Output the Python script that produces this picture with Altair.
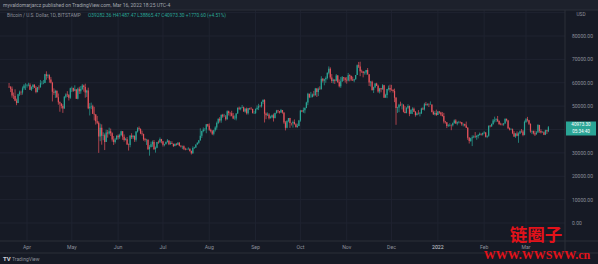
import altair as alt
import pandas as pd

START = "2021-03-20"
FIRST_OPEN = 58.3  # close of 2021-03-19, thousands USD

# Daily closes / highs / lows in thousands of USD, BTC/USD daily
close_2021_03 = [58.1, 57.4, 54.5, 54.3, 52.3, 51.3, 55.1, 55.9, 55.8, 57.6, 58.8, 58.8]
high_2021_03 = [59.9, 58.6, 58.4, 55.8, 57.2, 53.2, 55.3, 56.6, 56.6, 58.4, 59.4, 59.8]
low_2021_03 = [57.8, 56.0, 53.6, 53.0, 52.1, 50.4, 51.3, 54.4, 54.7, 54.9, 57.0, 56.9]

close_2021_04 = [59.0, 59.1, 57.0, 58.2, 59.1, 57.9, 56.0, 58.1, 58.0, 59.8, 59.8, 59.9, 63.6, 62.9, 63.2,
                 61.4, 60.0, 56.2, 55.7, 56.5, 53.8, 51.7, 51.1, 50.1, 49.0, 54.0, 55.0, 54.8, 53.6, 57.7]
high_2021_04 = [59.5, 60.0, 59.8, 58.5, 59.4, 59.4, 58.6, 58.2, 58.9, 61.2, 60.7, 61.2, 63.8, 64.9, 63.8,
                63.6, 62.5, 60.4, 57.6, 57.0, 56.8, 55.4, 52.0, 51.2, 50.8, 54.3, 55.5, 56.4, 55.2, 57.9]
low_2021_04 = [57.9, 58.5, 56.9, 56.5, 57.3, 57.8, 55.5, 55.9, 57.0, 58.0, 59.2, 59.4, 59.8, 61.3, 62.0,
               60.0, 59.7, 52.0, 54.8, 53.5, 53.5, 50.6, 47.6, 49.0, 47.1, 48.9, 53.4, 53.9, 52.4, 53.1]

close_2021_05 = [57.8, 56.6, 57.2, 53.2, 57.4, 56.4, 57.3, 58.8, 58.2, 55.8, 56.7, 49.1, 49.7, 49.9, 46.7, 46.4,
                 43.5, 42.9, 37.0, 40.7, 37.3, 37.5, 34.7, 38.7, 38.3, 39.3, 38.4, 35.7, 34.6, 35.7, 37.3]
high_2021_05 = [58.4, 57.9, 58.9, 57.0, 57.9, 58.3, 58.6, 59.5, 59.2, 59.6, 57.0, 57.9, 51.3, 51.5, 50.6, 49.7,
                46.6, 45.8, 43.5, 42.5, 42.2, 38.8, 38.3, 39.9, 39.8, 40.8, 40.4, 38.8, 37.2, 36.4, 37.5]
low_2021_05 = [56.0, 56.1, 56.4, 53.1, 52.9, 55.2, 55.3, 56.9, 56.2, 53.6, 53.9, 48.7, 46.0, 48.7, 46.6, 43.9,
               42.1, 42.3, 30.0, 35.0, 33.5, 35.4, 31.2, 34.7, 36.5, 37.8, 37.2, 34.8, 33.4, 34.0, 35.7]

close_2021_06 = [36.7, 37.6, 39.2, 36.9, 35.5, 35.8, 33.6, 33.4, 37.4, 36.7, 37.3, 35.6, 39.1, 40.5, 40.2,
                 38.3, 38.1, 35.8, 35.5, 35.6, 31.6, 32.5, 33.7, 34.7, 31.6, 32.2, 34.7, 34.5, 35.9, 35.0]
high_2021_06 = [37.9, 38.2, 39.5, 39.3, 37.9, 36.4, 36.8, 34.0, 37.5, 38.4, 37.6, 37.4, 39.3, 41.0, 41.3,
                40.5, 39.5, 38.2, 36.4, 36.0, 35.8, 33.3, 34.8, 35.3, 35.5, 32.7, 34.7, 35.3, 36.6, 36.0]
low_2021_06 = [35.7, 36.0, 37.2, 35.6, 34.8, 35.3, 33.4, 31.0, 32.4, 35.9, 35.9, 34.7, 34.8, 38.7, 39.5,
               38.0, 37.4, 35.2, 34.8, 33.4, 31.3, 28.8, 32.3, 32.6, 31.3, 30.1, 32.0, 33.9, 34.3, 34.1]

close_2021_07 = [33.5, 33.8, 34.7, 35.3, 33.7, 34.2, 33.9, 32.9, 33.8, 33.5, 34.3, 33.1, 32.7, 32.8, 31.8, 31.4,
                 31.5, 31.8, 30.8, 29.8, 32.1, 32.3, 33.6, 34.3, 35.4, 37.3, 39.4, 40.0, 40.0, 42.2, 41.6]
high_2021_07 = [35.0, 33.9, 34.9, 35.9, 35.3, 35.0, 35.0, 33.9, 34.1, 34.2, 34.6, 34.6, 33.3, 33.1, 33.2, 32.2,
                31.9, 32.4, 31.9, 31.0, 32.8, 32.6, 33.6, 34.5, 35.4, 40.5, 39.5, 40.9, 40.6, 42.3, 42.4]
low_2021_07 = [32.7, 32.8, 33.5, 34.4, 33.3, 33.5, 33.8, 32.5, 32.8, 33.1, 33.4, 32.8, 32.3, 31.6, 31.2, 31.1,
               31.3, 31.4, 30.5, 29.3, 29.6, 31.7, 32.1, 33.5, 33.9, 35.2, 36.4, 38.8, 39.3, 38.4, 41.1]

close_2021_08 = [39.9, 39.2, 38.2, 39.7, 40.9, 42.8, 44.6, 43.8, 46.3, 45.6, 45.6, 44.4, 47.8, 47.1, 47.0, 45.9,
                 44.7, 44.7, 46.8, 49.3, 48.9, 49.3, 49.5, 47.7, 48.9, 47.0, 49.1, 48.9, 48.8, 47.0, 47.1]
high_2021_08 = [42.6, 40.4, 39.8, 39.9, 41.4, 43.4, 44.7, 45.3, 46.4, 46.7, 46.7, 46.2, 48.2, 48.1, 47.4, 48.0,
                47.1, 46.0, 47.0, 49.4, 49.8, 49.5, 50.5, 49.8, 49.2, 49.4, 49.2, 49.3, 49.6, 48.9, 48.0]
low_2021_08 = [39.4, 38.7, 37.6, 37.5, 39.1, 39.9, 42.3, 43.0, 42.9, 45.0, 45.4, 43.8, 44.2, 46.0, 45.6, 45.6,
               44.4, 44.2, 43.9, 46.7, 48.3, 48.2, 49.1, 47.6, 47.2, 46.4, 46.4, 48.4, 48.4, 46.9, 46.7]

close_2021_09 = [48.8, 49.3, 50.0, 49.9, 51.8, 52.7, 46.8, 46.1, 46.4, 44.8, 45.2, 46.1, 44.9, 47.1, 48.1,
                 47.8, 47.3, 48.3, 47.3, 43.0, 40.7, 43.6, 44.9, 42.8, 42.7, 43.2, 42.2, 41.0, 41.5, 43.8]
high_2021_09 = [49.0, 50.3, 51.0, 50.5, 51.9, 52.8, 52.9, 47.3, 47.3, 47.0, 45.9, 46.4, 46.8, 47.2, 48.4,
                48.4, 47.9, 48.8, 48.3, 47.3, 43.6, 44.0, 44.9, 45.0, 42.9, 43.8, 44.3, 42.7, 42.5, 44.1]
low_2021_09 = [46.6, 48.3, 48.3, 49.5, 49.4, 50.9, 43.0, 44.4, 45.8, 44.3, 44.8, 44.8, 43.4, 44.7, 46.8,
               47.0, 46.8, 47.1, 46.8, 42.4, 39.6, 40.5, 43.1, 40.7, 41.7, 40.8, 42.2, 40.9, 40.8, 41.4]

close_2021_10 = [48.1, 47.7, 48.2, 49.2, 51.5, 55.3, 53.8, 53.9, 55.0, 54.7, 57.5, 56.0, 57.4, 57.3, 61.7, 60.9,
                 61.5, 62.0, 64.3, 66.0, 62.2, 60.7, 61.3, 60.9, 63.1, 60.3, 58.5, 60.6, 62.3, 61.9, 61.3]
high_2021_10 = [48.4, 48.3, 49.4, 49.5, 51.9, 55.7, 55.3, 56.1, 55.4, 56.5, 57.8, 57.7, 58.0, 58.5, 62.8, 62.0,
                61.7, 62.7, 64.4, 67.0, 66.6, 63.7, 61.7, 61.5, 63.7, 63.3, 61.4, 62.5, 62.9, 62.4, 62.4]
low_2021_10 = [43.3, 47.4, 47.1, 46.9, 49.1, 50.4, 53.4, 53.7, 53.7, 54.1, 54.5, 53.9, 54.3, 56.9, 57.0, 60.1,
               58.9, 60.0, 61.4, 63.6, 61.5, 59.9, 59.7, 59.5, 60.6, 59.9, 58.0, 57.8, 60.3, 60.8, 60.1]

close_2021_11 = [61.0, 63.2, 62.9, 61.4, 61.0, 61.5, 63.3, 67.5, 66.9, 64.9, 64.8, 64.2, 64.4, 65.5, 63.6,
                 60.1, 60.4, 56.9, 58.1, 59.7, 58.7, 56.3, 57.6, 57.2, 58.9, 53.6, 54.8, 57.3, 57.8, 57.0]
high_2021_11 = [62.4, 64.2, 63.6, 63.1, 62.6, 61.7, 63.3, 67.8, 68.9, 69.0, 65.6, 65.0, 64.9, 65.5, 66.3,
                63.6, 60.8, 60.9, 58.3, 59.8, 60.0, 59.2, 57.8, 57.8, 59.4, 59.1, 55.3, 57.4, 58.8, 59.2]
low_2021_11 = [59.6, 60.6, 60.6, 60.8, 60.8, 60.2, 61.3, 63.3, 66.3, 62.8, 64.2, 62.3, 63.5, 63.4, 63.4,
               58.6, 58.4, 56.6, 55.6, 57.7, 58.6, 55.7, 55.4, 55.9, 57.0, 53.6, 53.7, 53.4, 56.7, 55.9]

close_2021_12 = [56.9, 56.5, 53.6, 49.2, 49.4, 50.6, 50.5, 50.6, 47.6, 47.1, 49.3, 50.1, 46.7, 48.4, 48.9, 47.6,
                 46.2, 46.8, 46.7, 46.9, 49.0, 48.6, 50.8, 50.4, 50.8, 50.7, 50.7, 47.5, 46.5, 47.1, 46.2]
high_2021_12 = [59.1, 57.3, 57.5, 53.9, 49.7, 51.0, 51.9, 51.2, 50.8, 50.0, 49.5, 50.8, 50.2, 48.6, 49.5, 49.4,
                47.9, 47.3, 48.3, 47.5, 49.3, 49.5, 51.4, 51.8, 51.2, 51.2, 52.0, 50.7, 48.1, 47.9, 48.5]
low_2021_12 = [56.5, 55.8, 51.7, 42.0, 47.1, 47.4, 50.0, 48.6, 47.3, 46.9, 46.9, 48.8, 45.7, 46.6, 46.6, 47.5,
               45.5, 46.0, 46.4, 45.6, 46.6, 48.4, 48.1, 50.3, 50.3, 49.6, 50.5, 47.3, 46.2, 46.0, 45.8]

close_2022_01 = [47.7, 47.3, 46.4, 45.8, 43.4, 43.1, 41.5, 41.7, 41.9, 41.8, 42.7, 43.9, 42.6, 43.1, 43.2, 43.1,
                 42.2, 42.4, 41.7, 40.7, 36.5, 35.1, 36.3, 36.7, 37.0, 36.8, 37.2, 37.7, 38.2, 37.9, 38.5]
high_2022_01 = [47.9, 47.9, 47.6, 47.5, 47.1, 43.7, 43.1, 42.3, 42.7, 42.2, 43.0, 44.3, 44.4, 43.4, 43.7, 43.5,
                43.2, 42.6, 42.5, 43.4, 41.0, 36.8, 36.5, 37.5, 37.5, 38.9, 37.6, 38.0, 38.7, 38.3, 38.7]
low_2022_01 = [46.2, 46.7, 45.8, 45.5, 42.6, 42.5, 40.6, 41.1, 41.3, 39.7, 41.3, 42.6, 42.4, 41.8, 42.6, 42.6,
               41.6, 41.3, 41.3, 40.6, 35.6, 34.0, 34.7, 32.9, 36.3, 36.3, 35.6, 36.2, 37.4, 37.4, 37.4]

close_2022_02 = [38.7, 36.9, 37.3, 41.6, 41.4, 42.4, 43.9, 44.1, 44.4, 43.6, 42.4, 42.2, 42.1, 42.6,
                 44.6, 43.9, 40.5, 40.0, 40.1, 38.4, 37.0, 38.3, 37.3, 38.3, 39.2, 39.1, 37.7, 43.2]
high_2022_02 = [39.3, 38.9, 37.4, 41.7, 41.9, 42.6, 44.5, 45.5, 44.8, 45.8, 43.9, 42.9, 42.7, 42.8,
                44.7, 44.6, 44.1, 40.9, 40.5, 40.4, 39.3, 38.4, 39.2, 38.8, 39.6, 40.2, 39.8, 43.8]
low_2022_02 = [38.1, 36.6, 36.3, 36.9, 40.9, 41.1, 42.0, 43.0, 43.2, 43.2, 41.9, 41.8, 41.7, 41.6,
               42.5, 43.4, 40.2, 39.6, 39.7, 38.0, 36.8, 36.4, 37.1, 34.3, 38.0, 38.6, 37.1, 37.5]

close_2022_03 = [44.4, 44.0, 42.5, 39.1, 39.4, 38.4, 37.9, 38.7, 41.9, 39.4, 38.7, 38.8, 37.8, 39.7, 39.2, 40.97]
high_2022_03 = [44.9, 45.4, 44.1, 42.5, 39.6, 39.5, 39.5, 39.3, 42.3, 42.0, 40.1, 39.3, 39.2, 39.9, 39.9, 41.49]
low_2022_03 = [42.8, 43.4, 41.9, 38.6, 38.0, 37.9, 37.2, 37.9, 38.6, 38.6, 38.3, 38.6, 37.6, 37.6, 38.1, 38.87]

months = [
    (close_2021_03, high_2021_03, low_2021_03),
    (close_2021_04, high_2021_04, low_2021_04),
    (close_2021_05, high_2021_05, low_2021_05),
    (close_2021_06, high_2021_06, low_2021_06),
    (close_2021_07, high_2021_07, low_2021_07),
    (close_2021_08, high_2021_08, low_2021_08),
    (close_2021_09, high_2021_09, low_2021_09),
    (close_2021_10, high_2021_10, low_2021_10),
    (close_2021_11, high_2021_11, low_2021_11),
    (close_2021_12, high_2021_12, low_2021_12),
    (close_2022_01, high_2022_01, low_2022_01),
    (close_2022_02, high_2022_02, low_2022_02),
    (close_2022_03, high_2022_03, low_2022_03),
]

price_ticks = [0, 10, 20, 30, 40, 50, 60, 70, 80]          # thousands USD (labelled)
grid_prices = [0, 10, 20, 30, 40, 50, 60, 70, 80, 90]      # thousands USD (grid)
month_labels = ["Apr", "May", "Jun", "Jul", "Aug", "Sep", "Oct", "Nov", "Dec", "2022", "Feb", "Mar"]
month_starts = ["2021-04-01", "2021-05-01", "2021-06-01", "2021-07-01", "2021-08-01", "2021-09-01",
                "2021-10-01", "2021-11-01", "2021-12-01", "2022-01-01", "2022-02-01", "2022-03-01"]

header1 = "myvaldomarjarcz published on TradingView.com, Mar 16, 2022 18:25 UTC-4"
header2a = "Bitcoin / U.S. Dollar, 1D, BITSTAMP"
header2b = "O39282.36  H41487.47  L38865.47  C40973.30  +1770.60 (+4.51%)"
last_price = "40973.30"
countdown = "05:34:40"

# ---------------- build tables ----------------
close, high, low = [], [], []
for c, h, l in months:
    if not (len(c) == len(h) == len(l)):
        raise ValueError(f"length mismatch {len(c)} {len(h)} {len(l)}")
    close += c
    high += h
    low += l
opens = [FIRST_OPEN] + close[:-1]
start = pd.Timestamp(START)
df = pd.DataFrame({"day": range(len(close)), "open": opens, "close": close, "high": high, "low": low})
df["lo"] = df[["open", "close"]].min(axis=1)
df["hi"] = df[["open", "close"]].max(axis=1)
df["dir"] = ["up" if c >= o else "down" for o, c in zip(df["open"], df["close"])]

mdf = pd.DataFrame({"label": month_labels,
                    "day": [(pd.Timestamp(m) - start).days for m in month_starts]})
mdf["strong"] = [lab == "2022" for lab in month_labels]
tdf = pd.DataFrame({"p": price_ticks, "label": [f"{p * 1000:.2f}" for p in price_ticks]})
gdf = pd.DataFrame({"p": grid_prices})
one = pd.DataFrame({"k": [0]})

BG = "#161a25"
GRID = "#1f2330"
TXT = "#8c909b"
UP = "#2aa596"
DOWN = "#e5535b"
FONT = "Roboto"

xs = alt.Scale(domain=[12, 346], range=[22, 531], nice=False, zero=False)
ys = alt.Scale(domain=[0, 80], range=[223, 36], nice=False, zero=False)

top_strip = alt.Chart(one).mark_rect(color="#1d212c").encode(
    x=alt.value(0), x2=alt.value(598), y=alt.value(0), y2=alt.value(10))

vgrid = alt.Chart(mdf).mark_rule(color=GRID, strokeWidth=1).encode(
    x=alt.X("day:Q", scale=xs, axis=None), y=alt.value(10), y2=alt.value(241))
hgrid = alt.Chart(gdf).mark_rule(color=GRID, strokeWidth=1).encode(
    y=alt.Y("p:Q", scale=ys, axis=None), x=alt.value(0), x2=alt.value(565))

color = alt.Color("dir:N", scale=alt.Scale(domain=["up", "down"], range=[UP, DOWN]), legend=None)
wicks = alt.Chart(df).mark_rule(strokeWidth=0.7).encode(
    x=alt.X("day:Q", scale=xs, axis=None),
    y=alt.Y("low:Q", scale=ys, axis=None), y2="high:Q", color=color)
bodies = alt.Chart(df).mark_bar(size=1.2).encode(
    x=alt.X("day:Q", scale=xs, axis=None),
    y=alt.Y("lo:Q", scale=ys, axis=None), y2="hi:Q", color=color)

borders = alt.layer(
    alt.Chart(one).mark_rule(color="#2a2e39").encode(x=alt.value(565), y=alt.value(10), y2=alt.value(253)),
    alt.Chart(one).mark_rule(color="#2a2e39").encode(y=alt.value(241), x=alt.value(0), x2=alt.value(598)),
    alt.Chart(one).mark_rule(color="#2a2e39").encode(y=alt.value(253), x=alt.value(0), x2=alt.value(598)),
    alt.Chart(one).mark_rule(color="#2a2e39").encode(y=alt.value(10), x=alt.value(0), x2=alt.value(598)),
)

price_labels = alt.Chart(tdf).mark_text(align="left", baseline="middle", fontSize=5, color=TXT, font=FONT).encode(
    y=alt.Y("p:Q", scale=ys, axis=None), x=alt.value(572), text="label:N")
month_text = alt.Chart(mdf).mark_text(baseline="middle", fontSize=5.2, font=FONT).encode(
    x=alt.X("day:Q", scale=xs, axis=None), y=alt.value(247), text="label:N",
    color=alt.condition("datum.strong", alt.value("#d1d4dc"), alt.value(TXT)))

def txt(s, x, y, size, col, align="left", weight="normal", font=FONT):
    return alt.Chart(one).mark_text(align=align, baseline="middle", fontSize=size, color=col,
                                    fontWeight=weight, font=font).encode(
        x=alt.value(x), y=alt.value(y), text=alt.value(s))

texts = alt.layer(
    txt(header1, 3, 5, 5, "#a3a6af"),
    txt(header2a, 7, 16, 4.8, TXT),
    txt(header2b, 88, 16, 4.8, UP),
    txt("USD", 581, 15, 4.8, TXT, align="center"),
    txt("TV", 3, 258.5, 6, "#d1d4dc", weight="bold"),
    txt("TradingView", 12, 258.5, 5, TXT),
)

price_box = alt.layer(
    alt.Chart(one).mark_rect(color=UP).encode(
        x=alt.value(566), x2=alt.value(596), y=alt.value(121.5), y2=alt.value(135.5)),
    txt(last_price, 581, 125.3, 4.6, "#ffffff", align="center"),
    txt(countdown, 581, 131.7, 4.6, "#ffffff", align="center"),
)

watermark = alt.layer(
    txt("链圈子", 536, 235.5, 17.5, "#e3121a", align="center", weight="bold", font="Noto Sans CJK SC"),
    txt("WWW.WWSWW.cn", 537, 254.5, 12, "#e3121a", align="center", weight="bold", font="Liberation Serif"),
)

chart = alt.layer(
    top_strip, vgrid, hgrid, borders, wicks, bodies, price_labels, month_text, texts, price_box, watermark
).properties(
    width=598, height=264, padding=0, autosize=alt.AutoSizeParams(type="none")
).configure(background=BG).configure_view(stroke=None)

chart.save("out.html", embed_options={"renderer": "svg", "actions": False})
